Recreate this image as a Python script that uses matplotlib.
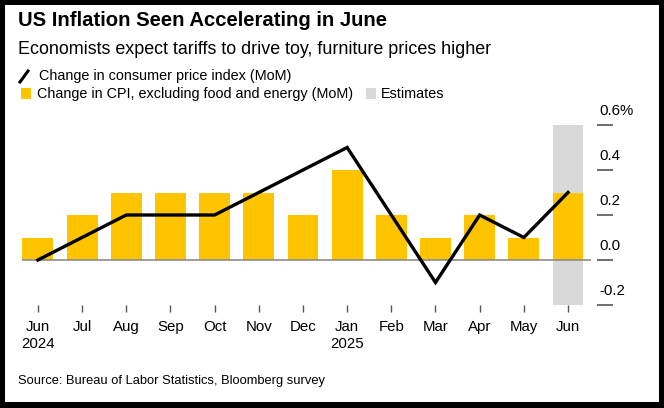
import matplotlib.pyplot as plt
from matplotlib.patches import Rectangle
from matplotlib.lines import Line2D

plt.rcParams['font.family'] = ['Liberation Sans', 'DejaVu Sans']

# data
months = ['Jun', 'Jul', 'Aug', 'Sep', 'Oct', 'Nov', 'Dec', 'Jan', 'Feb', 'Mar', 'Apr', 'May', 'Jun']
years = {0: '2024', 7: '2025'}
cpi = [0.0, 0.1, 0.2, 0.2, 0.2, 0.3, 0.4, 0.5, 0.2, -0.1, 0.2, 0.1, 0.3]
core = [0.1, 0.2, 0.3, 0.3, 0.3, 0.3, 0.2, 0.4, 0.2, 0.1, 0.2, 0.1, 0.3]
estimate_idx = 12
yticks = [-0.2, 0.0, 0.2, 0.4, 0.6]
ytick_labels = ['-0.2', '0.0', '0.2', '0.4', '0.6%']

YELLOW = '#FFC400'
GREY = '#D9D9D9'
W, H = 664, 408

fig = plt.figure(figsize=(W / 100, H / 100), dpi=100)
fig.patch.set_facecolor('black')
fig.add_artist(Rectangle((5 / W, 1 - 402 / H), 654 / W, 397 / H,
                         transform=fig.transFigure, facecolor='white', edgecolor='none', zorder=0))

def fx(px):
    return px / W

def fy(py):
    return 1 - py / H

# axes: left 22px, right 640px, top 125px (0.6), bottom 305px (-0.2)
ax = fig.add_axes([fx(22), fy(305), (640 - 22) / W, (305 - 125) / H])
ax.set_facecolor('none')
x = list(range(len(months)))
xmin, xmax = -0.36, (640 - 38) / 44.17
ax.set_xlim(xmin, xmax)
ax.set_ylim(-0.2, 0.6)

# estimates band
ax.bar(estimate_idx, 0.8, bottom=-0.2, width=0.7, color=GREY, zorder=1)
ax.bar(x, core, width=0.7, color=YELLOW, zorder=2)
ax.hlines(0, xmin, 12.52, color='#8c8c8c', lw=1.2, zorder=3)
ax.plot(x, cpi, color='black', lw=2.4, zorder=4, solid_joinstyle='miter')

# right side tick segments and labels
for t, lab in zip(yticks, ytick_labels):
    ax.hlines(t, 12.66, 13.02, color='#555555', lw=1.2, clip_on=False)
    ax.text(12.72, t + 0.03, lab, ha='left', va='bottom', fontsize=10.8, color='black')

for s in ax.spines.values():
    s.set_visible(False)
ax.set_yticks([])
ax.set_xticks(x)
ax.set_xticklabels([m + ('\n' + years[i] if i in years else '') for i, m in enumerate(months)],
                   fontsize=10.8, linespacing=1.25)
ax.tick_params(axis='x', direction='out', length=5, width=1, color='#555555', pad=6)
for lbl in ax.get_xticklabels():
    lbl.set_verticalalignment('top')

# titles
fig.text(fx(18), fy(21), 'US Inflation Seen Accelerating in June', fontsize=14.6,
         fontweight='bold', va='center', ha='left')
fig.text(fx(18), fy(49), 'Economists expect tariffs to drive toy, furniture prices higher',
         fontsize=12.9, va='center', ha='left')

# legend
fig.add_artist(Line2D([fx(20), fx(28)], [fy(82), fy(71)], color='black', lw=2.2,
                      transform=fig.transFigure))
fig.text(fx(39), fy(76), 'Change in consumer price index (MoM)', fontsize=10.4, va='center')
fig.add_artist(Rectangle((fx(21), fy(99)), 10 / W, 11 / H, transform=fig.transFigure,
                         facecolor=YELLOW, edgecolor='none'))
fig.text(fx(37), fy(94), 'Change in CPI, excluding food and energy (MoM)', fontsize=10.4, va='center')
fig.add_artist(Rectangle((fx(366), fy(99)), 10 / W, 11 / H, transform=fig.transFigure,
                         facecolor=GREY, edgecolor='none'))
fig.text(fx(381), fy(94), 'Estimates', fontsize=10.4, va='center')

fig.text(fx(18), fy(381), 'Source: Bureau of Labor Statistics, Bloomberg survey',
         fontsize=9.3, va='center')

fig.savefig('out.png', dpi=100, facecolor=fig.get_facecolor())
